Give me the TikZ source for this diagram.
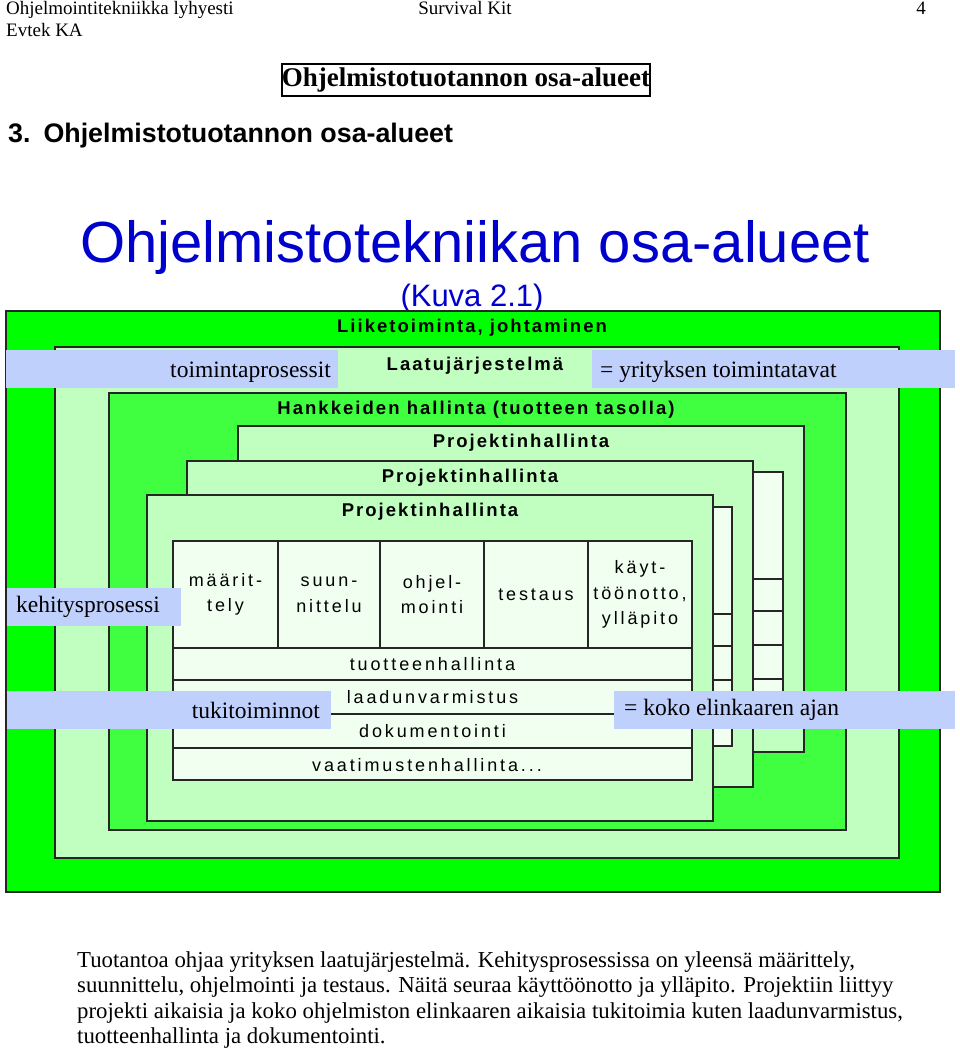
\documentclass[tikz,border=0pt]{standalone}
\usepackage{fontspec}
\setmainfont{Liberation Serif}
\newfontfamily\arialf{Liberation Sans}
\newfontfamily\diagf[LetterSpace=16]{Liberation Sans}
\newfontfamily\diagT[LetterSpace=11]{Liberation Sans}
\definecolor{brightg}{RGB}{0,255,0}
\definecolor{lightg}{RGB}{192,255,192}
\definecolor{medg}{RGB}{64,255,64}
\definecolor{cellc}{RGB}{240,255,240}
\definecolor{bandc}{RGB}{192,208,252}
\definecolor{titleblue}{RGB}{0,0,204}
\tikzset{
  boxline/.style={draw=black!85, line width=1.3pt},
  diag/.style={font=\diagf\fontsize{18}{25.5}\selectfont, inner sep=0pt, align=center},
  diagtitle/.style={font=\diagT\bfseries\fontsize{18.5}{22}\selectfont, inner sep=0pt},
  bandtxt/.style={font=\fontsize{23.5}{28}\selectfont, inner sep=0pt},
  band/.style={fill=bandc, draw=none},
  para/.style={font=\fontsize{22.8}{26}\selectfont, anchor=base west, inner sep=0pt},
  hdr/.style={font=\fontsize{19}{22}\selectfont, inner sep=0pt}
}
\newcommand\projframe[3]{%
  \draw[boxline, fill=lightg] (#1,#2) rectangle ++(566,326);
  \draw[boxline, fill=cellc] (#1+26,#2+46) rectangle (#1+545,#2+285);
  \foreach \dx in {131,233,337,441} \draw[boxline] (#1+\dx,#2+46) -- (#1+\dx,#2+153);
  \foreach \dy in {153,185,219,253} \draw[boxline] (#1+26,#2+\dy) -- (#1+545,#2+\dy);
  \node[diagtitle] (#3) at (#1+283,#2+17) {Projektinhallinta};
}
\begin{document}
\begin{tikzpicture}[x=1pt,y=-1pt]
\useasboundingbox (0,0) rectangle (960,1051);
% header
\node[hdr, anchor=base west] (h1) at (6,15) {Ohjelmointitekniikka lyhyesti};
\node[hdr, anchor=base west] (h2) at (6,37) {Evtek KA};
\node[hdr, anchor=base] (h3) at (465,15) {Survival Kit};
\node[hdr, anchor=base] (h4) at (921,15) {4};
\draw[line width=1.2pt] (282,64) rectangle (650,96);
\node[font=\bfseries\fontsize{27}{30}\selectfont, inner sep=0pt, anchor=base] (bt) at (466,87) {Ohjelmistotuotannon osa-alueet};
\node[font=\arialf\bfseries\fontsize{26.8}{30}\selectfont, inner sep=0pt, anchor=base west] (sec) at (8,143) {3.\hspace{13pt}Ohjelmistotuotannon osa-alueet};
\node[font=\arialf\fontsize{58}{60}\selectfont, text=titleblue, inner sep=0pt, anchor=base] (big) at (475,262) {Ohjelmistotekniikan osa-alueet};
\node[font=\arialf\fontsize{31}{34}\selectfont, text=titleblue, inner sep=0pt, anchor=base] (kuva) at (472,306) {(Kuva 2.1)};
% layers
\draw[boxline, fill=brightg] (6,311) rectangle (940,892);
\draw[boxline, fill=lightg] (55,347) rectangle (899,858);
\draw[boxline, fill=medg] (109,393) rectangle (846,830);
\node[diagtitle] (liike) at (472,328) {Liiketoiminta, johtaminen};
\node[diagtitle] (hank) at (476,410) {Hankkeiden hallinta (tuotteen tasolla)};
% project boxes
\projframe{238}{426}{pjA}
\projframe{187}{461}{pjB}
\projframe{147}{495}{pjC}
% front content texts
\node[diag] (p1) at (225.5,594.5) {määrit-\\tely};
\node[diag] (p2) at (329,594.5) {suun-\\nittelu};
\node[diag] (p3) at (432,594.5) {ohjel-\\mointi};
\node[diag] (p4) at (536,594.5) {testaus};
\node[diag] (p5) at (640,594.5) {käyt-\\töönotto,\\ylläpito};
\node[diag] (s1) at (432.5,664) {tuotteenhallinta};
\node[diag] (s2) at (432.5,697) {laadunvarmistus};
\node[diag] (s3) at (432.5,731) {dokumentointi};
\node[diag] (s4) at (427,765) {vaatimustenhallinta...};
% bands
\fill[band] (6,350) rectangle (338,388);
\fill[band] (592,350) rectangle (955,388);
\fill[band] (7,588) rectangle (181,626);
\fill[band] (7,691) rectangle (331,729);
\fill[band] (614,691) rectangle (955,729);
\node[diagtitle] (laatu) at (475,366) {Laatujärjestelmä};
\node[bandtxt, anchor=east] (tp) at (331,372) {toimintaprosessit};
\node[bandtxt, anchor=west] (yt) at (600,372) {= yrityksen toimintatavat};
\node[bandtxt, anchor=west] (kp) at (16,607) {kehitysprosessi};
\node[bandtxt, anchor=east] (tk) at (320,710) {tukitoiminnot};
\node[bandtxt, anchor=west] (ke) at (624,710) {= koko elinkaaren ajan};
% paragraph
\node[para] (l1) at (77,967) {Tuotantoa ohjaa yrityksen laatujärjestelmä. Kehitysprosessissa on yleensä määrittely,};
\node[para] (l2) at (77,992) {suunnittelu, ohjelmointi ja testaus. Näitä seuraa käyttöönotto ja ylläpito. Projektiin liittyy};
\node[para] (l3) at (77,1018) {projekti aikaisia ja koko ohjelmiston elinkaaren aikaisia tukitoimia kuten laadunvarmistus,};
\node[para] (l4) at (77,1043) {tuotteenhallinta ja dokumentointi.};
\end{tikzpicture}
\end{document}
